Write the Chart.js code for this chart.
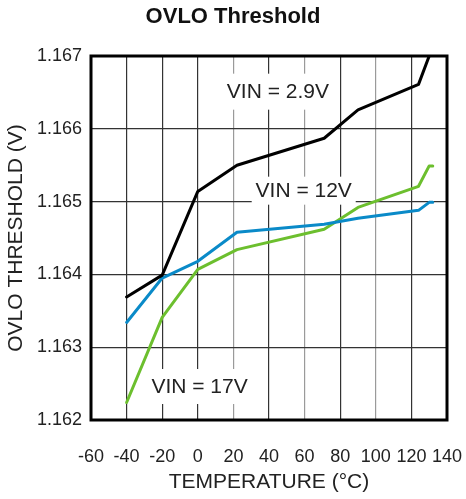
<!DOCTYPE html>
<html>
<head>
<meta charset="utf-8">
<script src="https://cdn.jsdelivr.net/npm/chart.js@4"></script>
<style>
  html, body { margin: 0; padding: 0; background: #fff; }
  #wrap { width: 466px; height: 499px; }
</style>
</head>
<body>
<div id="wrap"><canvas id="ovloChart"></canvas></div>
<script>
// Valeurs (température en °C, seuil en V)
const temps = [-40, -20, 0, 22, 71, 90, 124, 130, 132];
const vin29 = [1.16369, 1.16399, 1.16514, 1.16550, 1.16587, 1.16626, 1.16661, 1.16700, null];
const vin12 = [1.16334, 1.16395, 1.16418, 1.16458, 1.16469, 1.16477, 1.16488, 1.16499, 1.16499];
const vin17 = [1.16224, 1.16341, 1.16407, 1.16434, 1.16462, 1.16492, 1.16521, 1.16549, 1.16549];

const seriesNames = ['VIN = 2.9V', 'VIN = 12V', 'VIN = 17V'];
const xTicks = [-60, -40, -20, 0, 20, 40, 60, 80, 100, 120, 140];
const yTicks = [1.162, 1.163, 1.164, 1.165, 1.166, 1.167];

function toPoints(values) {
    return temps.map((t, i) => ({ x: t, y: values[i] }));
}

// Étiquettes posées dans le graphique, avec fond blanc
const curveLabels = [
    { text: seriesNames[0], x: 45, y: 1.16651, w: 114, h: 36 },
    { text: seriesNames[1], x: 59.5, y: 1.16515, w: 104, h: 28 },
    { text: seriesNames[2], x: 1, y: 1.16246, w: 104, h: 35 }
];

const labelPlugin = {
    id: 'curveLabels',
    beforeDatasetsDraw(chart) {
        const { ctx, scales } = chart;
        ctx.save();
        ctx.font = '21px "Liberation Sans", Arial, sans-serif';
        ctx.textAlign = 'center';
        ctx.textBaseline = 'middle';
        curveLabels.forEach(l => {
            const cx = scales.x.getPixelForValue(l.x);
            const cy = scales.y.getPixelForValue(l.y);
            ctx.fillStyle = '#fff';
            ctx.fillRect(cx - l.w / 2, cy - l.h / 2, l.w, l.h);
            ctx.fillStyle = '#222';
            ctx.fillText(l.text, cx, cy + 1);
        });
        ctx.restore();
    },
    afterDatasetsDraw(chart) {
        const { ctx, chartArea: a } = chart;
        ctx.save();
        ctx.strokeStyle = '#000';
        ctx.lineWidth = 3;
        ctx.strokeRect(a.left, a.top, a.right - a.left, a.bottom - a.top);
        ctx.restore();
    }
};

const font = '"Liberation Sans", Arial, sans-serif';

new Chart(document.getElementById('ovloChart').getContext('2d'), {
    type: 'line',
    data: {
        datasets: [
            { label: seriesNames[0], data: toPoints(vin29), borderColor: '#000000', borderWidth: 3 },
            { label: seriesNames[1], data: toPoints(vin12), borderColor: '#0a8ac8', borderWidth: 3 },
            { label: seriesNames[2], data: toPoints(vin17), borderColor: '#6cbf2e', borderWidth: 3 }
        ]
    },
    options: {
        responsive: true,
        maintainAspectRatio: false,
        animation: false,
        layout: { padding: { left: 0, right: 0, top: 0, bottom: 0 } },
        elements: {
            point: { radius: 0 },
            line: { tension: 0, fill: false, borderCapStyle: 'round', borderJoinStyle: 'round' }
        },
        plugins: {
            legend: { display: false },
            tooltip: { enabled: false },
            title: {
                display: true,
                text: 'OVLO Threshold',
                color: '#111',
                font: { family: font, size: 22, weight: 'bold' },
                padding: { top: 4, bottom: 25.6 }
            }
        },
        scales: {
            x: {
                type: 'linear',
                min: -60,
                max: 140,
                afterBuildTicks: s => { s.ticks = xTicks.map(v => ({ value: v })); },
                afterFit: s => { s.height = 79; s.paddingRight = 19; },
                grid: {
                    color: c => [20, 60, 100].includes(c.tick && c.tick.value) ? '#9a9a9a' : '#333',
                    lineWidth: 1.2,
                    drawTicks: false
                },
                border: { display: false },
                ticks: {
                    color: '#222',
                    padding: 26,
                    maxRotation: 0,
                    autoSkip: false,
                    font: { family: font, size: 18 }
                },
                title: {
                    display: true,
                    text: 'TEMPERATURE (°C)',
                    color: '#222',
                    font: { family: font, size: 21 },
                    padding: { top: 4, bottom: 4 }
                }
            },
            y: {
                min: 1.162,
                max: 1.167,
                afterBuildTicks: s => { s.ticks = yTicks.map(v => ({ value: v })); },
                afterFit: s => { s.width = 91; },
                grid: { color: '#333', lineWidth: 1.2, drawTicks: false },
                border: { display: false },
                ticks: {
                    color: '#222',
                    padding: 9,
                    font: { family: font, size: 18 },
                    callback: v => v.toFixed(3)
                },
                title: {
                    display: true,
                    text: 'OVLO THRESHOLD (V)',
                    color: '#222',
                    font: { family: font, size: 21 },
                    padding: { top: 4, bottom: 4 }
                }
            }
        }
    },
    plugins: [labelPlugin]
});
</script>
</body>
</html>
